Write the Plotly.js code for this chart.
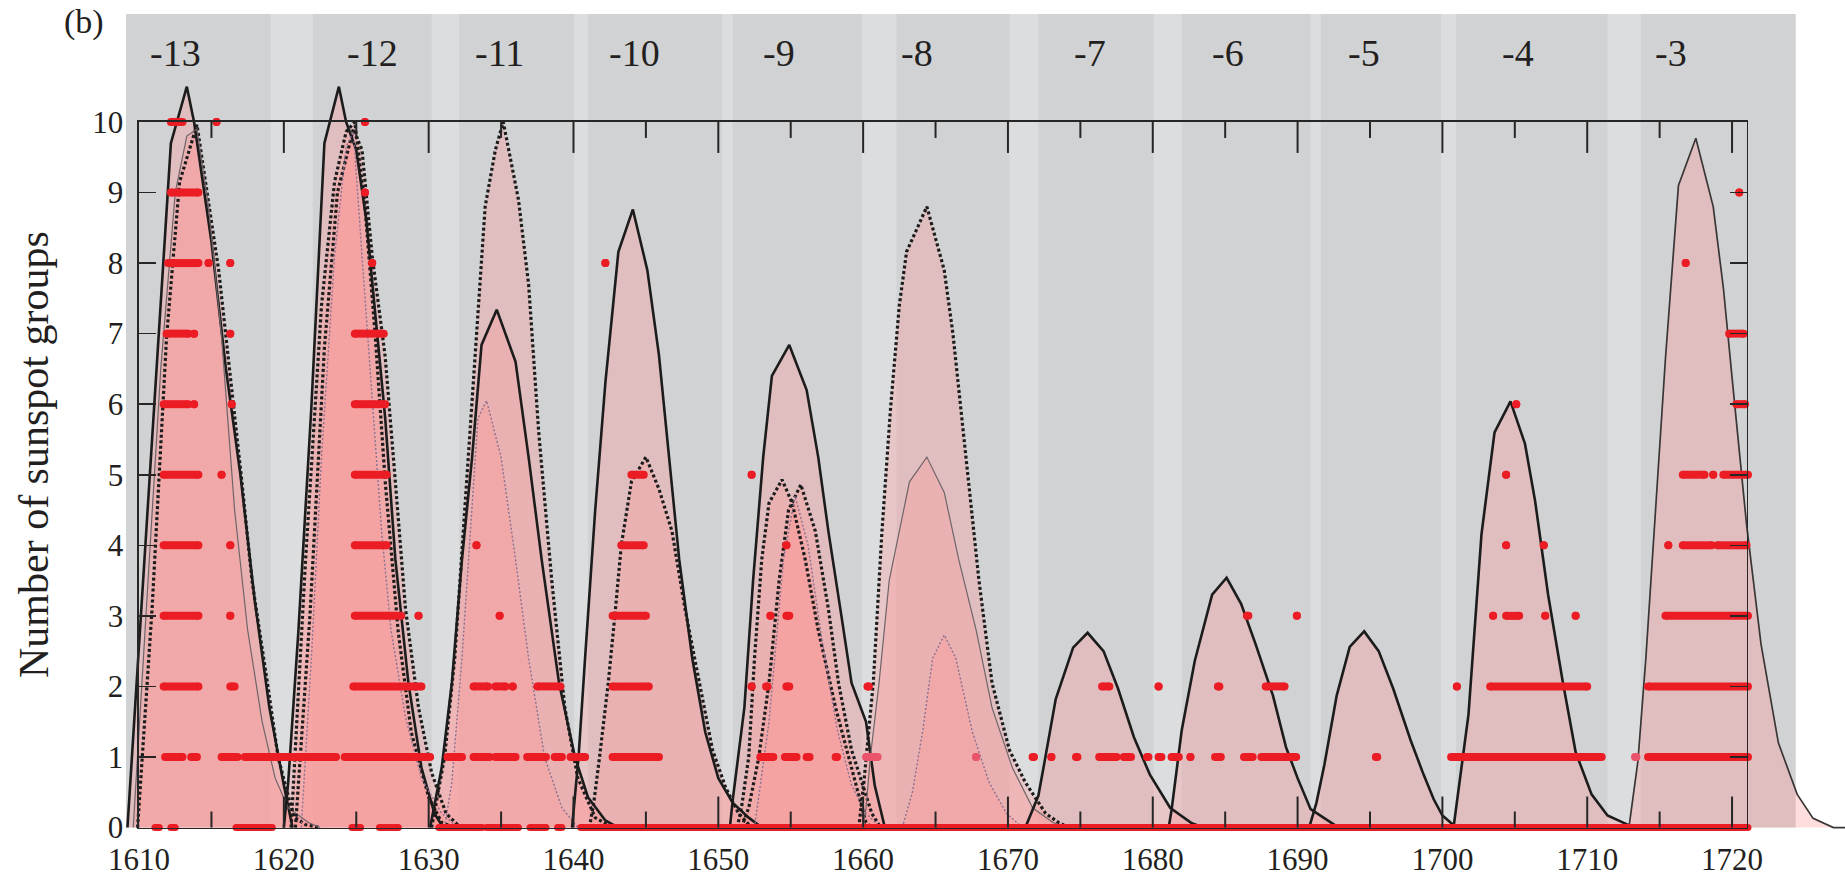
<!DOCTYPE html>
<html><head><meta charset="utf-8">
<script src="https://cdn.plot.ly/plotly-3.0.1.min.js"></script>
<style>html,body{margin:0;padding:0;background:#fff;} #chart{width:1845px;height:879px;}</style>
</head><body><div id="chart"></div>
<script>
// ---------- labels / ticks ----------
const panelLabel = '(b)';
const yAxisTitle = 'Number of sunspot groups';
const cycleNames = ['-13','-12','-11','-10','-9','-8','-7','-6','-5','-4','-3'];
const cycleLabelYears = [1612.5,1626.1,1634.9,1644.2,1654.2,1663.7,1675.7,1685.2,1694.6,1705.2,1715.8];
const xTickYears = [1610,1620,1630,1640,1650,1660,1670,1680,1690,1700,1710,1720];
const xTickText = ['1610','1620','1630','1640','1650','1660','1670','1680','1690','1700','1710','1720'];
const xMinorTickYears = [1615,1625,1635,1645,1655,1665,1675,1685,1695,1705,1715];
const yTickVals = [0,1,2,3,4,5,6,7,8,9,10];
const yTickText = ['0','1','2','3','4','5','6','7','8','9','10'];

// ---------- background bands (cycle periods vs. gaps) ----------
const bandStart = 1609.1, bandEnd = 1724.4;
const gapStarts = [1619.1,1630.2,1640.05,1650.25,1659.9,1670.1,1680.05,1690.9,1699.9,1711.4];
const gapEnds   = [1622.0,1632.1,1641.0,1651.0,1662.3,1672.1,1682.0,1691.6,1700.95,1713.7];

// ---------- model curves ----------
// cycle -13
const c13S_x = [1609.2,1610,1611,1612,1612.2,1613.3,1613.8,1615,1616,1617,1618,1619,1620,1620.6];
const c13S_y = [0,2.6,5.8,9.1,9.7,10.5,10.0,8.3,6.5,5.0,3.2,1.7,0.6,0];
const c13D_x = [1609.9,1610.9,1611.9,1612.8,1614.0,1615.5,1617.1,1617.8,1618.9,1619.6,1620.3,1620.7,1621.5,1622.5];
const c13D_y = [0,3.1,6.95,9.15,9.96,7.9,4.9,3.5,2.0,1.0,0.45,0.15,0.04,0];
const c13T_x = [1609.6,1610.5,1611.5,1612.5,1613.3,1614.0,1614.8,1615.7,1616.6,1617.5,1618.5,1619.4,1620.3,1621.7,1622.5];
const c13T_y = [0,3.0,6.5,9.0,9.8,9.9,8.8,6.95,4.5,2.8,1.5,0.7,0.28,0.07,0];
// cycle -12
const c12S_x = [1620.0,1620.3,1621.0,1621.9,1622.8,1623.8,1624.3,1625.0,1625.7,1626.3,1627.0,1627.7,1628.6,1629.5,1630.4,1631.0];
const c12S_y = [0,0.64,2.77,5.96,9.7,10.5,10.0,9.6,8.6,7.3,5.8,3.8,2.05,0.85,0.2,0];
const c12Da_x = [1620.5,1621.5,1622.6,1623.5,1624.3,1624.9,1625.6,1626.3,1627.0,1627.9,1628.8,1630.0,1630.9,1631.8];
const c12Da_y = [0,3.8,7.4,9.15,9.86,10.0,8.8,7.0,4.9,2.77,1.35,0.43,0.07,0];
const c12Db_x = [1620.8,1621.8,1622.8,1623.7,1624.8,1625.4,1626.1,1627.0,1627.7,1628.4,1629.3,1630.2,1631.2,1632.2];
const c12Db_y = [0,3.0,6.8,9.0,9.9,9.6,8.1,6.67,4.9,3.1,1.7,0.78,0.2,0];
const c12TD_x = [1621.2,1621.9,1622.6,1623.5,1624.3,1624.8,1625.4,1626.1,1626.75,1627.4,1628.4,1629.5,1630.9,1632.0];
const c12TD_y = [0,2.4,5.25,8.1,9.65,9.86,8.1,6.0,4.2,2.8,1.56,0.7,0.2,0];
// cycle -11
const c11D_x = [1630.2,1631.1,1631.8,1632.5,1633.2,1633.9,1634.6,1635.15,1636.2,1636.9,1637.6,1638.5,1639.4,1640.3,1641.5,1642.7];
const c11D_y = [0,1.0,2.4,4.5,6.7,8.8,9.6,10.0,8.9,7.7,5.6,3.5,1.7,0.7,0.14,0];
const c11S_x = [1630.1,1630.4,1630.9,1631.6,1632.3,1633.0,1633.65,1634.7,1636.0,1636.9,1637.8,1639.0,1640.1,1641.0,1642.2,1643.1];
const c11S_y = [0,0.3,0.85,2.05,3.8,5.25,6.84,7.34,6.6,5.25,3.8,2.05,1.0,0.43,0.1,0];
const c11TD_x = [1631.1,1631.6,1632.3,1633.0,1633.4,1634.0,1635.0,1636.0,1636.9,1638.0,1639.2,1640.3];
const c11TD_y = [0,0.64,2.4,4.5,5.8,6.05,5.25,3.8,2.4,1.0,0.28,0];
// cycle -10
const c10S_x = [1639.9,1640.1,1640.35,1640.8,1641.5,1642.2,1643.1,1644.1,1645.1,1645.9,1646.6,1647.3,1648.2,1649.1,1650.0,1651.0,1652.1,1653.0];
const c10S_y = [0,0.5,1.0,2.4,4.5,6.3,8.16,8.76,7.9,6.7,5.25,3.8,2.4,1.35,0.7,0.35,0.14,0];
const c10D_x = [1641.1,1641.4,1641.8,1642.4,1642.9,1643.3,1644.0,1645.0,1645.9,1646.8,1647.7,1648.7,1649.6,1650.5,1651.4,1652.3];
const c10D_y = [0,0.35,1.0,2.05,3.1,4.0,4.9,5.25,4.8,4.2,3.1,2.05,1.1,0.57,0.2,0];
// cycle -9
const c9S_x = [1650.8,1651.0,1651.8,1652.4,1653.1,1653.7,1654.9,1656.1,1656.9,1657.6,1658.5,1659.2,1660.2,1660.8,1661.5];
const c9S_y = [0,0.4,1.7,3.5,5.25,6.4,6.84,6.2,5.25,4.2,3.0,2.05,1.5,0.6,0];
const c9Da_x = [1651.3,1651.6,1652.1,1652.5,1653.0,1653.5,1654.4,1655.1,1656.0,1656.9,1658.1,1659.0,1659.7,1660.2,1660.6];
const c9Da_y = [0,0.28,1.0,2.4,3.8,4.6,4.93,4.6,3.8,2.8,1.7,1.0,0.5,0.07,0];
const c9Db_x = [1651.6,1652.1,1652.8,1653.5,1654.2,1654.85,1655.7,1656.7,1657.6,1658.3,1659.2,1659.9,1660.6,1661.2];
const c9Db_y = [0,0.28,1.0,2.05,3.5,4.5,4.86,4.2,3.1,2.05,1.1,0.64,0.2,0];
const c9TD_x = [1652.5,1653.5,1654.5,1655.3,1656.2,1657.2,1658.2,1659.2,1660.2,1661.2];
const c9TD_y = [0,1.5,3.8,4.7,4.0,2.6,1.4,0.6,0.2,0];
// cycle -8
const c8D_x = [1659.7,1660.05,1660.7,1661.3,1661.9,1662.5,1663.0,1664.4,1665.6,1666.2,1667.1,1668.0,1668.9,1670.1,1671.2,1672.6,1673.5,1674.2];
const c8D_y = [0,0.64,2.05,4.2,5.96,7.4,8.16,8.8,7.9,7.0,5.25,3.5,2.05,1.1,0.64,0.2,0.07,0];
const c8T_x = [1660.0,1660.2,1660.5,1661.1,1661.8,1663.2,1664.4,1665.6,1666.6,1667.8,1668.9,1670.3,1671.7,1673.1,1674.0];
const c8T_y = [0,0.28,1.0,2.05,3.5,4.9,5.25,4.75,3.8,2.8,1.7,0.85,0.28,0.07,0];
const c8TD_x = [1662.7,1663.4,1664.1,1664.8,1665.6,1666.4,1667.55,1668.7,1669.9,1671.0];
const c8TD_y = [0,0.5,1.35,2.4,2.73,2.4,1.35,0.64,0.2,0];
// cycles -7 .. -3
const c7S_x = [1671.2,1672.1,1672.5,1673.3,1674.5,1675.5,1676.6,1677.6,1678.7,1679.8,1681.2,1682.7,1683.5];
const c7S_y = [0,0.45,0.9,1.82,2.55,2.76,2.5,1.97,1.28,0.75,0.28,0.06,0];
const c6S_x = [1681.1,1681.3,1682.0,1682.9,1684.1,1685.1,1686.1,1687.1,1688.3,1689.2,1690.0,1690.9,1692.6];
const c6S_y = [0,0.25,1.38,2.36,3.3,3.54,3.17,2.6,1.87,1.14,0.7,0.26,0.03];
const c5S_x = [1690.8,1691.3,1691.85,1692.7,1693.6,1694.6,1695.6,1696.6,1697.8,1698.7,1699.4,1700.0,1700.8];
const c5S_y = [0,0.35,0.89,1.87,2.56,2.78,2.5,1.97,1.24,0.75,0.4,0.17,0.03];
const c4S_x = [1700.8,1701.8,1702.7,1703.6,1704.7,1705.7,1706.4,1707.3,1708.3,1709.2,1710.3,1711.4,1712.9];
const c4S_y = [0.05,1.6,4.16,5.6,6.04,5.44,4.63,3.3,2.08,1.07,0.47,0.17,0.03];
const c3S_x = [1712.9,1713.5,1714.05,1714.75,1715.4,1716.3,1717.5,1718.7,1719.4,1720.1,1721.0,1722.0,1723.2,1724.5,1725.6,1727.0,1727.8];
const c3S_y = [0.03,0.94,2.4,4.63,6.64,9.1,9.77,8.8,7.65,6.17,4.3,2.6,1.2,0.47,0.13,0,0];

// ---------- observations: runs [from, to] at each group count ----------
const obs10 = [[1612.2,1613.0],[1615.35,1615.35],[1625.6,1625.6]];
const obs9  = [[1612.2,1614.1],[1625.6,1625.6],[1720.5,1720.5]];
const obs8  = [[1612.0,1614.1],[1614.8,1614.8],[1616.3,1616.3],[1626.1,1626.1],[1642.2,1642.2],[1716.8,1716.8]];
const obs7  = [[1611.9,1613.4],[1613.8,1613.8],[1616.3,1616.3],[1624.9,1626.9],[1719.8,1720.8]];
const obs6  = [[1611.7,1613.4],[1613.8,1613.8],[1616.4,1616.4],[1624.9,1627.0],[1705.1,1705.1],[1720.3,1720.9]];
const obs5  = [[1611.7,1614.1],[1615.7,1615.7],[1624.9,1627.1],[1644.0,1644.85],[1652.3,1652.3],[1704.4,1704.4],[1716.6,1718.1],[1718.7,1718.7],[1719.4,1721.1]];
const obs4  = [[1611.7,1614.1],[1616.3,1616.3],[1624.9,1627.1],[1633.3,1633.3],[1643.3,1644.85],[1654.7,1654.7],[1704.4,1704.4],[1707.0,1707.0],[1715.6,1715.6],[1716.6,1718.6],[1719.0,1721.0]];
const obs3  = [[1611.7,1614.1],[1616.3,1616.3],[1624.9,1628.1],[1629.3,1629.3],[1634.9,1634.9],[1642.7,1645.0],[1653.6,1653.6],[1654.7,1654.9],[1686.5,1686.6],[1689.95,1689.95],[1703.5,1703.5],[1704.4,1705.3],[1707.1,1707.1],[1709.2,1709.2],[1715.4,1721.1]];
const obs2  = [[1611.7,1614.1],[1616.3,1616.6],[1624.8,1629.5],[1633.1,1634.1],[1634.6,1635.3],[1635.8,1635.8],[1637.5,1639.1],[1642.7,1645.2],[1652.3,1652.3],[1653.3,1653.4],[1654.7,1654.9],[1660.3,1660.4],[1676.5,1677.0],[1680.4,1680.4],[1684.5,1684.6],[1687.8,1689.1],[1701.0,1701.0],[1703.3,1710.0],[1714.2,1721.1]];
const obs1  = [[1611.8,1613.0],[1613.6,1614.0],[1615.7,1616.8],[1617.3,1617.8],[1618.0,1623.6],[1624.2,1630.1],[1631.3,1632.3],[1633.1,1634.2],[1634.6,1636.0],[1636.8,1638.1],[1638.7,1639.2],[1639.8,1640.8],[1642.7,1645.9],[1652.9,1653.8],[1654.6,1655.4],[1656.1,1656.3],[1658.1,1658.2],[1671.7,1671.8],[1673.0,1673.0],[1674.7,1674.8],[1676.3,1677.5],[1678.0,1678.5],[1679.6,1679.7],[1680.4,1680.6],[1681.3,1681.8],[1682.6,1682.6],[1684.3,1684.7],[1686.3,1686.9],[1687.5,1689.9],[1695.4,1695.5],[1700.6,1711.0],[1714.2,1721.1]];
const obs1faint = [[1660.2,1661.0],[1667.8,1667.8],[1713.3,1713.4]];
const obs0  = [[1611.1,1611.4],[1612.2,1612.5],[1616.7,1619.2],[1624.7,1625.3],[1626.6,1627.9],[1630.7,1633.7],[1634.0,1636.2],[1637.0,1638.1],[1638.9,1639.2],[1640.5,1721.1]];

// ---------- styles ----------
const STY = {
  solid:   {color:'#1c1c1c', width:2.6},
  dot:     {color:'#1c1c1c', width:3.2, dash:'3px,2.5px'},
  thin:    {color:'#6f6569', width:1.2},
  thinDot: {color:'#8a7192', width:1.4, dash:'2px,2px'},
  thinS:   {color:'#3a3636', width:1.7}
};
const curves = [
  [c13S_x,c13S_y,'solid'],[c13D_x,c13D_y,'dot'],[c13T_x,c13T_y,'thin'],
  [c12S_x,c12S_y,'solid'],[c12Da_x,c12Da_y,'dot'],[c12Db_x,c12Db_y,'dot'],[c12TD_x,c12TD_y,'thinDot'],
  [c11D_x,c11D_y,'dot'],[c11S_x,c11S_y,'solid'],[c11TD_x,c11TD_y,'thinDot'],
  [c10S_x,c10S_y,'solid'],[c10D_x,c10D_y,'dot'],
  [c9S_x,c9S_y,'solid'],[c9Da_x,c9Da_y,'dot'],[c9Db_x,c9Db_y,'dot'],[c9TD_x,c9TD_y,'thinDot'],
  [c8D_x,c8D_y,'dot'],[c8T_x,c8T_y,'thin'],[c8TD_x,c8TD_y,'thinDot'],
  [c7S_x,c7S_y,'solid'],[c6S_x,c6S_y,'solid'],[c5S_x,c5S_y,'solid'],[c4S_x,c4S_y,'solid'],[c3S_x,c3S_y,'thinS']
];

const traces = [];
curves.forEach(([x,y]) => traces.push({x, y, type:'scatter', mode:'lines', line:{width:0, color:'rgba(0,0,0,0)'},
  fill:'tozeroy', fillcolor:'rgba(255,150,150,0.32)', hoverinfo:'skip', showlegend:false}));
curves.forEach(([x,y,s]) => traces.push({x, y, type:'scatter', mode:'lines', line:Object.assign({shape:'linear'}, STY[s]),
  hoverinfo:'skip', showlegend:false}));

function runTrace(runs, level, color, w) {
  const x = [], y = [];
  runs.forEach(([a,b]) => { x.push(a, b, null); y.push(level, level, null); });
  return {x, y, type:'scatter', mode:'lines+markers', cliponaxis:false, line:{color, width:w},
    marker:{color, size:w}, hoverinfo:'skip', showlegend:false};
}
const red = '#ec1c24';
traces.push(runTrace(obs0, 0, red, 7));
[obs1,obs2,obs3,obs4,obs5,obs6,obs7,obs8,obs9,obs10].forEach((r,i) => traces.push(runTrace(r, i+1, red, 8)));
traces.push(runTrace(obs1faint, 1, '#e9546b', 8));

const xr = [1609.1, 1727.8], yr = [-0.12, 11.53];
const frameX = [1610, 1721.0], frameY = [0, 10];
const axCol = '#262626';

// inward x tick marks on the bottom and top frame lines, built from the tick arrays
// (drawn on the main data axes, which share the frame's year / count scale)
const pxPerUnit = 822 / (yr[1] - yr[0]);
function tickTrace(years, lenPx) {
  const len = lenPx / pxPerUnit, x = [], y = [];
  years.forEach(t => {
    x.push(t, t, null, t, t, null);
    y.push(frameY[0], frameY[0] + len, null, frameY[1], frameY[1] - len, null);
  });
  return {x, y, type:'scatter', mode:'lines', line:{color:axCol, width:2}, hoverinfo:'skip', showlegend:false};
}
traces.push(tickTrace(xTickYears.slice(1), 31));
traces.push(tickTrace(xMinorTickYears, 16));

// frame axis carrier (invisible)
traces.push({x:frameX, y:frameY, xaxis:'x2', yaxis:'y2', type:'scatter',
  mode:'markers', marker:{opacity:0}, hoverinfo:'skip', showlegend:false});

const shapes = [{type:'rect', xref:'x', yref:'y', x0:bandStart, x1:bandEnd, y0:0, y1:yr[1],
  fillcolor:'#d1d2d4', line:{width:0}, layer:'below'}];
gapStarts.forEach((g,i) => shapes.push({type:'rect', xref:'x', yref:'y', x0:g, x1:gapEnds[i], y0:0, y1:yr[1],
  fillcolor:'#dcdddf', line:{width:0}, layer:'below'}));

const font = 'Liberation Serif, Times New Roman, serif';
const ink = '#231f20';
const annotations = cycleNames.map((n,i) => ({x:cycleLabelYears[i], y:10.98, xref:'x', yref:'y', text:n,
  xanchor:'center', yanchor:'middle', showarrow:false, font:{family:font, size:38, color:ink}}));
annotations.push({x:(84-126)/1719, y:(836-22)/822, xref:'paper', yref:'paper', text:panelLabel, showarrow:false,
  xanchor:'center', yanchor:'middle', font:{family:font, size:34, color:ink}});
annotations.push({x:(34-126)/1719, y:(836-455)/822, xref:'paper', yref:'paper', text:yAxisTitle, textangle:-90,
  xanchor:'center', yanchor:'middle', showarrow:false, font:{family:font, size:42, color:ink}});

const frameDomX = [(frameX[0]-xr[0])/(xr[1]-xr[0]), (frameX[1]-xr[0])/(xr[1]-xr[0])];
const frameDomY = [(frameY[0]-yr[0])/(yr[1]-yr[0]), (frameY[1]-yr[0])/(yr[1]-yr[0])];

const layout = {
  width:1845, height:879, margin:{l:126, r:0, t:14, b:43},
  paper_bgcolor:'#fff', plot_bgcolor:'rgba(0,0,0,0)', showlegend:false,
  font:{family:font, color:ink},
  xaxis:{range:xr, domain:[0,1], visible:false, fixedrange:true},
  yaxis:{range:yr, domain:[0,1], visible:false, fixedrange:true},
  xaxis2:{anchor:'y2', range:frameX, domain:frameDomX,
    showline:true, linecolor:axCol, linewidth:1.6, mirror:true, showgrid:false, zeroline:false,
    ticks:'', tickmode:'array', tickvals:xTickYears, ticktext:xTickText, ticklabelstandoff:4,
    tickfont:{family:font, size:31, color:ink}},
  yaxis2:{anchor:'x2', range:frameY, domain:frameDomY,
    showline:true, linecolor:axCol, linewidth:1.6, mirror:'ticks', showgrid:false, zeroline:false,
    ticks:'inside', ticklen:17, tickwidth:1.6, tickcolor:axCol,
    tickmode:'array', tickvals:yTickVals, ticktext:yTickText, ticklabelstandoff:8,
    tickfont:{family:font, size:31, color:ink}},
  shapes, annotations
};
Plotly.newPlot('chart', traces, layout, {staticPlot:true, displayModeBar:false});
</script></body></html>
